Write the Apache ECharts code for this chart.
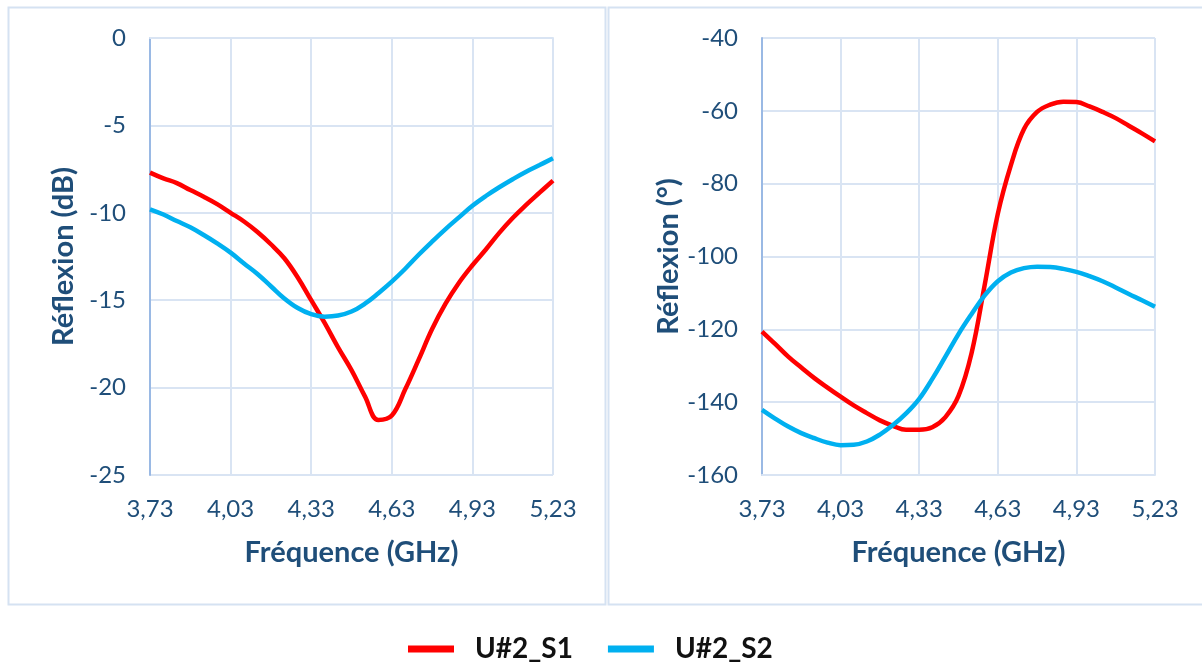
<!DOCTYPE html>
<html lang="fr">
<head>
    <meta charset="utf-8">
    <title>Réflexion U#2</title>
    <script src="https://cdn.jsdelivr.net/npm/echarts@6/dist/echarts.min.js"></script>
    <style>
        html, body { margin: 0; padding: 0; background: #fff; }
        #chart { width: 1202px; height: 664px; }
    </style>
</head>
<body>
    <div id="chart"></div>
    <script type="text/javascript">
        // fréquences (GHz), pas de 0,05
        var freqs = [3.73, 3.78, 3.83, 3.88, 3.93, 3.98, 4.03, 4.08, 4.13, 4.18, 4.23, 4.28, 4.33, 4.38, 4.43, 4.48,
            4.53, 4.58, 4.63, 4.68, 4.73, 4.78, 4.83, 4.88, 4.93, 4.98, 5.03, 5.08, 5.13, 5.18, 5.23];
        var xTicks = ["3,73", "4,03", "4,33", "4,63", "4,93", "5,23"];
        var seriesNames = ["U#2_S1", "U#2_S2"];
        // module (dB)
        var s1dB = [-7.7, -8.03, -8.3, -8.7, -9.08, -9.5, -10.0, -10.5, -11.1, -11.8, -12.6, -13.7, -15.0, -16.3, -17.7, -19.0,
            -20.5, -21.85, -21.6, -20.1, -18.4, -16.65, -15.2, -14.0, -13.0, -12.1, -11.15, -10.3, -9.55, -8.85, -8.16];
        var s2dB = [-9.8, -10.1, -10.47, -10.83, -11.27, -11.75, -12.28, -12.9, -13.5, -14.2, -14.9, -15.45, -15.8, -15.94, -15.88, -15.65,
            -15.2, -14.6, -13.94, -13.2, -12.4, -11.65, -10.93, -10.26, -9.6, -9.04, -8.54, -8.08, -7.65, -7.27, -6.88];
        // phase (°)
        var s1Deg = [-120.6, -124.0, -127.5, -130.5, -133.4, -136.0, -138.5, -140.9, -143.0, -145.0, -146.5, -147.6, -147.6, -146.9, -144.1, -138.3,
            -126.5, -107.8, -88.3, -74.9, -65.0, -60.3, -58.3, -57.5, -57.6, -58.8, -60.3, -62.0, -64.1, -66.2, -68.4];
        var s2Deg = [-142.1, -144.5, -146.7, -148.5, -149.9, -151.1, -151.8, -151.7, -150.8, -148.9, -146.3, -143.1, -139.1, -133.6, -127.5, -121.3,
            -115.8, -110.7, -106.8, -104.4, -103.2, -102.8, -102.9, -103.4, -104.2, -105.4, -106.8, -108.5, -110.3, -112.0, -113.8];

        var F0 = 3.73;
        var textColor = "#1F4E79";
        var gridColor = "#D9E4F3";
        var axisColor = "#9AB9E4";
        var font = "Lato, 'Open Sans', sans-serif";

        function pairs(vals) {
            return freqs.map(function (f, i) { return [Math.round((f - F0) * 100) / 100, vals[i]]; });
        }

        function xAxisOf(idx) {
            return {
                gridIndex: idx, type: "value", min: 0, max: 1.5, interval: 0.3,
                name: "Fréquence (GHz)", nameLocation: "middle", nameGap: 63,
                nameTextStyle: { color: textColor, fontSize: 29, fontWeight: "bold", fontFamily: font, verticalAlign: "top" },
                axisLine: { show: true, lineStyle: { color: gridColor, width: 2 } },
                axisTick: { show: false },
                splitLine: { show: true, lineStyle: { color: gridColor, width: 2 } },
                axisLabel: {
                    color: textColor, fontSize: 24, fontFamily: font, margin: 22,
                    formatter: function (v) { return xTicks[Math.round(v / 0.3)]; }
                }
            };
        }

        function yAxisOf(idx, min, max, step, name) {
            return {
                gridIndex: idx, type: "value", min: min, max: max, interval: step,
                name: name, nameLocation: "middle", nameGap: 72, nameRotate: 90,
                nameTextStyle: { color: textColor, fontSize: 29, fontWeight: "bold", fontFamily: font },
                axisLine: { show: true, lineStyle: { color: axisColor, width: 2 } },
                axisTick: { show: false },
                splitLine: { show: true, lineStyle: { color: gridColor, width: 2 } },
                axisLabel: { color: textColor, fontSize: 24, fontFamily: font, margin: 24 }
            };
        }

        function line(name, color, xi, data) {
            return {
                name: name, type: "line", xAxisIndex: xi, yAxisIndex: xi,
                smooth: 0.4, symbol: "none", data: data,
                lineStyle: { color: color, width: 4.5 }, itemStyle: { color: color }
            };
        }

        var chart = echarts.init(document.getElementById("chart"));
        chart.setOption({
            backgroundColor: "#fff",
            animation: false,
            graphic: [
                { type: "rect", shape: { x: 8.5, y: 7.5, width: 597, height: 597 }, style: { fill: "none", stroke: "#D5E2F2", lineWidth: 2 } },
                { type: "rect", shape: { x: 608.5, y: 7.5, width: 600, height: 597 }, style: { fill: "none", stroke: "#D5E2F2", lineWidth: 2 } }
            ],
            legend: {
                top: 630, left: 403, icon: "rect", itemWidth: 46, itemHeight: 7, itemGap: 35,
                textStyle: { color: "#111", fontSize: 28, fontWeight: "bold", fontFamily: font, padding: [0, 0, 0, 16] },
                data: seriesNames
            },
            grid: [
                { left: 150, right: 649, top: 38, bottom: 189 },
                { left: 762, right: 47, top: 38, bottom: 189 }
            ],
            xAxis: [xAxisOf(0), xAxisOf(1)],
            yAxis: [
                yAxisOf(0, -25, 0, 5, "Réflexion (dB)"),
                yAxisOf(1, -160, -40, 20, "Réflexion (°)")
            ],
            series: [
                line(seriesNames[0], "#FF0000", 0, pairs(s1dB)),
                line(seriesNames[1], "#00B0F0", 0, pairs(s2dB)),
                line(seriesNames[0], "#FF0000", 1, pairs(s1Deg)),
                line(seriesNames[1], "#00B0F0", 1, pairs(s2Deg))
            ]
        });
    </script>
</body>
</html>
